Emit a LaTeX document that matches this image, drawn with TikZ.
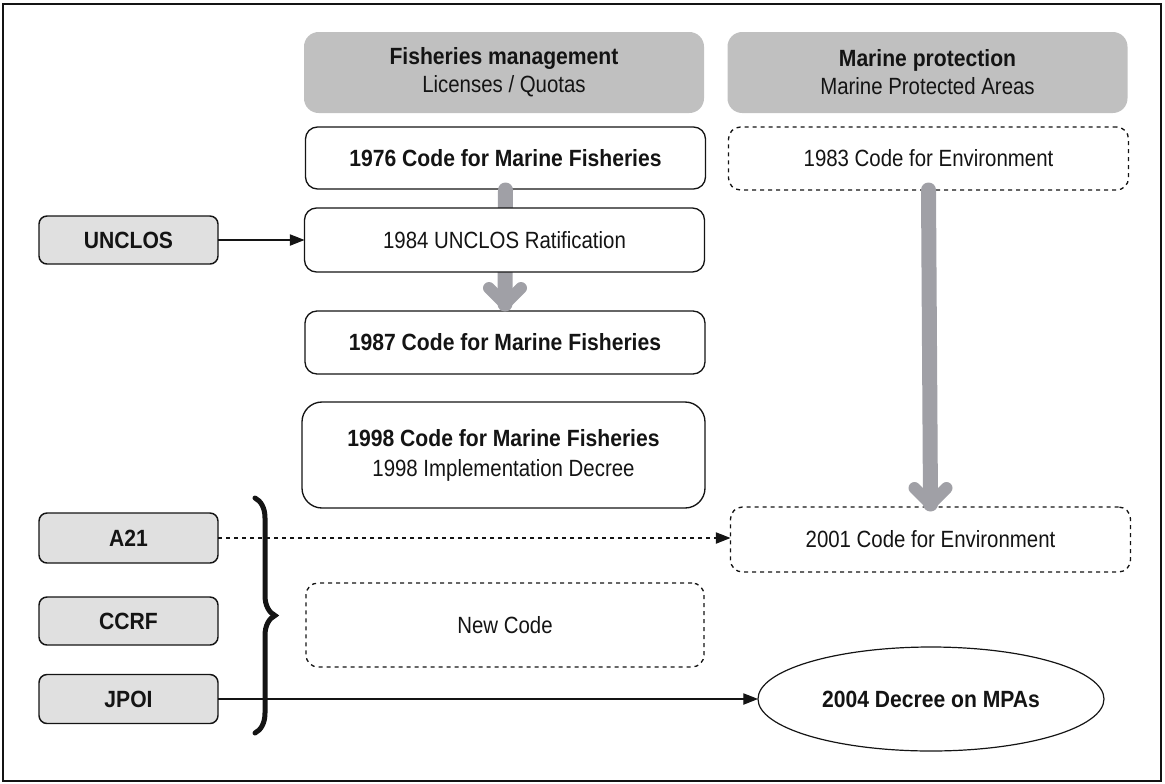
\documentclass[tikz,border=0pt]{standalone}
\usepackage{fontspec}
\setmainfont{Liberation Sans}[FakeStretch=0.87,BoldFeatures={FakeStretch=0.9}]
\usetikzlibrary{shapes.geometric,arrows.meta,calc,decorations.pathreplacing}
\definecolor{hdrgray}{RGB}{192,192,192}
\definecolor{boxgray}{RGB}{224,224,224}
\definecolor{arrgray}{RGB}{160,160,166}
\definecolor{ink}{RGB}{20,20,20}
\begin{document}
\begin{tikzpicture}[x=0.75pt,y=-0.75pt,
  every node/.style={font=\fontsize{17.6pt}{21pt}\selectfont, text=ink, inner sep=0pt, outer sep=0pt, align=center},
  hdr/.style={fill=hdrgray, rounded corners=11pt, minimum width=300pt, minimum height=60.75pt},
  codebox/.style={draw=ink, line width=1pt, fill=white, rounded corners=9pt, minimum width=300pt},
  dashbox/.style={codebox, dash pattern=on 3pt off 3pt},
  srcbox/.style={draw=ink, line width=1.1pt, fill=boxgray, rounded corners=6pt, minimum width=134.25pt, minimum height=36pt, font=\fontsize{17.6pt}{21pt}\selectfont\bfseries},
  link/.style={draw=ink, line width=0.8pt, -{Triangle[length=11pt,width=8.5pt]}},
  gshaft/.style={draw=arrgray, line width=11.25pt, line cap=round},
  gchev/.style={draw=arrgray, line width=9pt, line cap=round, line join=round}
]
\useasboundingbox (0,0) rectangle (1165,783);
\draw[line width=1.5pt, ink] (3,4) rectangle (1161,781);

% headers
\node[hdr] (hdrF) at (504,72.5) {\textbf{Fisheries management}\\Licenses / Quotas};
\node[hdr] (hdrM) at (927.5,72.5) {\textbf{Marine protection}\\Marine Protected Areas};

% fisheries column
\node[codebox, minimum height=46.5pt] (c1976) at (505.5,158) {\textbf{1976 Code for Marine Fisheries}};
\node[codebox, minimum height=47.25pt] (c1987) at (505,342.5) {\textbf{1987 Code for Marine Fisheries}};
\coordinate (tipL) at ($(c1987.north)+(0,-7)$);
\draw[gshaft] ($(c1976.south)+(0,1)$) -- (tipL);
\draw[gchev] ($(tipL)+(-16,-16)$) -- (tipL) -- ($(tipL)+(16,-16)$);
\node[codebox, minimum height=48pt] (c1984) at (504.5,240) {1984 UNCLOS Ratification};
\node[codebox, rounded corners=15pt, minimum width=302.25pt, minimum height=79.5pt, font=\fontsize{17.6pt}{22.5pt}\selectfont] (c1998) at (503.5,455) {\textbf{1998 Code for Marine Fisheries}\\1998 Implementation Decree};
\node[dashbox, minimum width=298.5pt, minimum height=63pt] (newc) at (505,625) {New Code};

% marine column
\node[dashbox, minimum height=47.25pt] (c1983) at (928.5,158.5) {1983 Code for Environment};
\node[dashbox, minimum height=48.75pt] (c2001) at (930.5,539.5) {2001 Code for Environment};
\node[draw=ink, line width=0.9pt, ellipse, minimum width=259.5pt, minimum height=78pt] (mpa) at (931,699) {\textbf{2004 Decree on MPAs}};
\coordinate (tipR) at ($(c2001.north)+(0,-3)$);
\draw[gshaft] (c1983.south) -- (tipR);
\draw[gchev] ($(tipR)+(-16,-16)$) -- (tipR) -- ($(tipR)+(16,-16)$);

% source boxes
\node[srcbox] (unclos) at (128.5,240) {UNCLOS};
\node[srcbox, minimum height=37.5pt] (a21) at (128.5,538) {A21};
\node[srcbox] (ccrf) at (128.5,621) {CCRF};
\node[srcbox, minimum height=36.75pt] (jpoi) at (128.5,699) {JPOI};

% links
\draw[link] (unclos.east) -- (c1984.west);
\draw[link, dash pattern=on 3pt off 3pt] (a21.east) -- (a21.east -| c2001.west);
\draw[link] (jpoi.east) -- (mpa.west);

% brace
\draw[ink, line width=3.75pt, line cap=round, decorate, decoration={brace, amplitude=15pt}] (255,498) -- (255,733);
\end{tikzpicture}
\end{document}
